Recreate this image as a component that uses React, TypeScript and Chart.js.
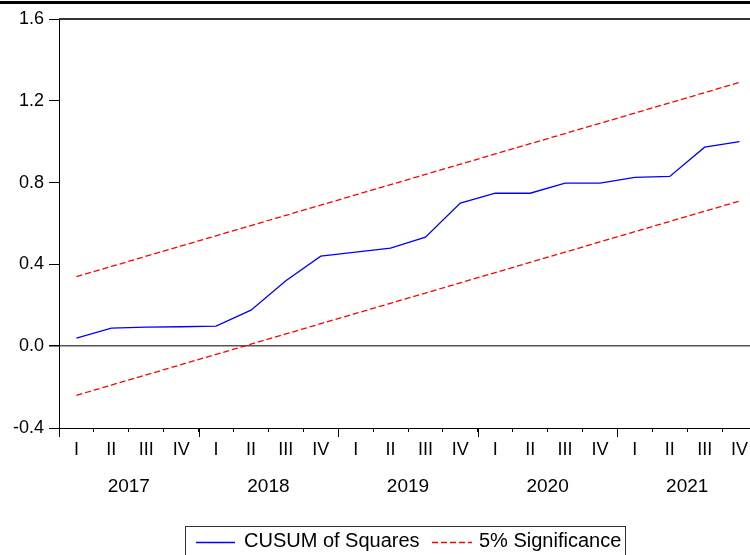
import React, { useEffect, useRef } from "react";
import { Chart, registerables } from "chart.js";

Chart.register(...registerables);

const quarterLabels = [
  "I", "II", "III", "IV",
  "I", "II", "III", "IV",
  "I", "II", "III", "IV",
  "I", "II", "III", "IV",
  "I", "II", "III", "IV",
];
const years = ["2017", "2018", "2019", "2020", "2021"];
const quartersPerYear = 4;

const cusumSquares = [
  0.04, 0.088, 0.093, 0.095, 0.098, 0.176, 0.32, 0.44, 0.46, 0.48,
  0.533, 0.7, 0.748, 0.748, 0.797, 0.797, 0.826, 0.83, 0.973, 1.0,
];
const upperBound = [
  0.34, 0.39, 0.44, 0.49, 0.54, 0.59, 0.64, 0.69, 0.74, 0.79,
  0.84, 0.89, 0.94, 0.99, 1.04, 1.09, 1.14, 1.19, 1.24, 1.29,
];
const lowerBound = [
  -0.24, -0.19, -0.14, -0.09, -0.04, 0.01, 0.06, 0.11, 0.16, 0.21,
  0.26, 0.31, 0.36, 0.41, 0.46, 0.51, 0.56, 0.61, 0.66, 0.71,
];

const FONT = "'Liberation Sans', Arial, sans-serif";

const decorPlugin = {
  id: "decor",
  afterDraw(chart: any) {
    const { ctx, chartArea } = chart;
    const x2 = chart.scales.x2;
    ctx.save();
    // page top rule
    ctx.fillStyle = "#000";
    ctx.fillRect(0, 1, 750, 3);
    // plot top border
    ctx.strokeStyle = "#333";
    ctx.lineWidth = 2;
    ctx.beginPath();
    ctx.moveTo(chartArea.left, chartArea.top);
    ctx.lineTo(chartArea.right, chartArea.top);
    ctx.stroke();
    // long year ticks
    ctx.strokeStyle = "#000";
    ctx.lineWidth = 1;
    for (let i = 0; i <= years.length; i++) {
      const px = Math.round(x2.getPixelForValue(i * quartersPerYear - 0.5)) + 0.5;
      ctx.beginPath();
      ctx.moveTo(px, chartArea.bottom);
      ctx.lineTo(px, chartArea.bottom + 9);
      ctx.stroke();
    }
    // legend
    const ds = chart.data.datasets;
    ctx.strokeStyle = "#333";
    ctx.lineWidth = 1;
    ctx.strokeRect(185.5, 526.5, 440, 40);
    ctx.font = `20px ${FONT}`;
    ctx.textBaseline = "middle";
    ctx.fillStyle = "#000";
    const ly = 541;
    ctx.strokeStyle = ds[0].borderColor;
    ctx.lineWidth = 1.3;
    ctx.setLineDash([]);
    ctx.beginPath();
    ctx.moveTo(196, ly + 1.5);
    ctx.lineTo(235, ly + 1.5);
    ctx.stroke();
    ctx.fillText(ds[0].label, 244, ly);
    ctx.strokeStyle = ds[1].borderColor;
    ctx.setLineDash(ds[1].borderDash);
    ctx.beginPath();
    ctx.moveTo(432, ly + 1.5);
    ctx.lineTo(472, ly + 1.5);
    ctx.stroke();
    ctx.setLineDash([]);
    ctx.fillText(ds[1].label, 479, ly);
    ctx.restore();
  },
};

export default function App() {
  const ref = useRef<HTMLCanvasElement>(null);
  useEffect(() => {
    document.body.style.margin = "0";
    const chart = new Chart(ref.current as HTMLCanvasElement, {
      type: "line",
      data: {
        labels: quarterLabels,
        datasets: [
          {
            label: "CUSUM of Squares",
            data: cusumSquares,
            borderColor: "#0000ff",
            borderWidth: 1.3,
            pointRadius: 0,
            tension: 0,
            order: 0,
          },
          {
            label: "5% Significance",
            data: upperBound,
            borderColor: "#ff0000",
            borderWidth: 1.3,
            borderDash: [6, 3],
            pointRadius: 0,
            tension: 0,
            order: 1,
          },
          {
            label: "5% Significance",
            data: lowerBound,
            borderColor: "#ff0000",
            borderWidth: 1.3,
            borderDash: [6, 3],
            pointRadius: 0,
            tension: 0,
            order: 1,
          },
        ],
      },
      options: {
        animation: false,
        responsive: false,
        devicePixelRatio: 1,
        layout: { padding: { top: 19, right: 23, left: 0, bottom: 0 } },
        plugins: { legend: { display: false }, tooltip: { enabled: false } },
        scales: {
          x: {
            type: "category",
            position: "bottom",
            weight: 0,
            offset: true,
            grid: {
              offset: true,
              drawOnChartArea: false,
              tickLength: 4,
              tickColor: "#000",
              color: "#000",
            },
            border: { display: true, color: "#000", width: 1 },
            ticks: {
              color: "#000",
              font: { family: FONT, size: 18 },
              padding: 7,
              maxRotation: 0,
              autoSkip: false,
            },
            afterFit: (s: any) => {
              s.height = 40;
            },
          },
          x2: {
            type: "linear",
            position: "bottom",
            weight: 1,
            min: -0.5,
            max: quarterLabels.length - 0.5,
            grid: { display: false, drawTicks: false },
            border: { display: false },
            afterBuildTicks: (s: any) => {
              s.ticks = years.map((_, i) => ({
                value: i * quartersPerYear + (quartersPerYear - 1) / 2,
              }));
            },
            ticks: {
              color: "#000",
              font: { family: FONT, size: 19 },
              padding: 7,
              maxRotation: 0,
              autoSkip: false,
              callback: (_v: any, i: number) => years[i],
            },
            afterFit: (s: any) => {
              s.height = 87;
            },
          },
          y: {
            min: -0.4,
            max: 1.6,
            ticks: {
              stepSize: 0.4,
              color: "#000",
              font: { family: FONT, size: 18 },
              padding: 5,
              callback: (v: any) => Number(v).toFixed(1),
            },
            grid: {
              drawOnChartArea: true,
              tickLength: 10,
              tickColor: "#000",
              color: (c: any) =>
                c.tick && Math.abs(c.tick.value) < 1e-9 ? "#555" : "rgba(0,0,0,0)",
              lineWidth: (c: any) =>
                c.tick && Math.abs(c.tick.value) < 1e-9 ? 1.5 : 1,
            },
            border: { display: true, color: "#000", width: 1 },
            afterFit: (s: any) => {
              s.width = 59;
            },
          },
        },
      },
      plugins: [decorPlugin],
    });
    return () => chart.destroy();
  }, []);
  return (
    <div
      style={{
        position: "absolute",
        left: 0,
        top: 0,
        width: 750,
        height: 555,
        overflow: "hidden",
        background: "#fff",
      }}
    >
      <canvas ref={ref} width={780} height={555} style={{ width: 780, height: 555 }} />
    </div>
  );
}
